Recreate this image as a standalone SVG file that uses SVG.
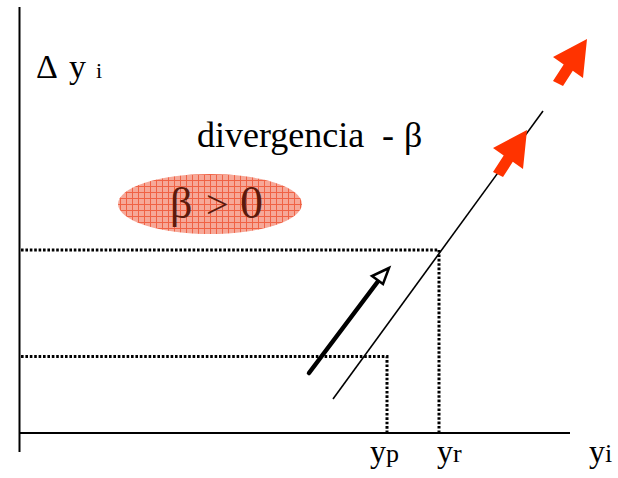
<svg xmlns="http://www.w3.org/2000/svg" width="618" height="478" viewBox="0 0 618 478">
<style>
.axis{stroke:#000;stroke-width:2;fill:none}
.dot{stroke:#000;stroke-width:3;stroke-dasharray:2.6 1.8;fill:none}
.red{fill:#ff3300}
.dk{fill:#5c1a0c}
.s{font-family:'Liberation Serif','Times New Roman',serif}
</style>
<defs>
<pattern id="grid" width="6" height="6" patternUnits="userSpaceOnUse">
<rect width="6" height="6" fill="#f6a898"/>
<path d="M0 0.5H6M0.5 0V6" stroke="#ee4422" stroke-width="1" opacity="0.7"/>
</pattern>
<polygon id="blk" points="527,130 523,169 512.8,161.8 503,177 493,172 503.7,155.5 493,148"/>
</defs>
<rect width="618" height="478" fill="#fff"/>
<g id="axes">
<line class="axis" x1="19.5" y1="7" x2="19.5" y2="452"/>
<line class="axis" x1="20" y1="433" x2="570" y2="433"/>
</g>
<g id="connectors">
<polyline class="dot" points="21,250 439,250 439,432"/>
<polyline class="dot" points="21,356.5 387,356.5 387,432"/>
<line x1="333" y1="399" x2="543" y2="111" stroke="#000" stroke-width="1.6"/>
<line x1="309" y1="373" x2="379" y2="280" stroke="#000" stroke-width="4.5" stroke-linecap="round"/>
<polygon points="389,268 372,276 383,284" fill="#fff" stroke="#000" stroke-width="2.5"/>
</g>
<g id="red-arrows">
<use href="#blk" class="red"/>
<use href="#blk" class="red" transform="translate(60,-91)"/>
</g>
<g id="ylabel">
<text class="s" x="36" y="78" font-size="34">Δ</text>
<text class="s" x="69" y="78" font-size="34">y</text>
<text class="s" x="96" y="78" font-size="22">i</text>
</g>
<g id="title">
<text class="s" x="197" y="147" font-size="36">divergencia<tspan x="382">-</tspan><tspan x="404">β</tspan></text>
</g>
<g id="beta-node">
<ellipse cx="210" cy="204" rx="92" ry="30" fill="url(#grid)"/>
<text class="s dk" x="170" y="218" font-size="44">β</text>
<text class="s dk" x="206" y="218" font-size="40">&gt;</text>
<text class="s dk" x="240" y="218" font-size="46">0</text>
</g>
<g id="xlabels">
<text class="s" x="370" y="462" font-size="32">y<tspan font-size="26">p</tspan></text>
<text class="s" x="437" y="462" font-size="32">y<tspan font-size="26">r</tspan></text>
<text class="s" x="589" y="462" font-size="32">y<tspan font-size="26">i</tspan></text>
</g>
</svg>
